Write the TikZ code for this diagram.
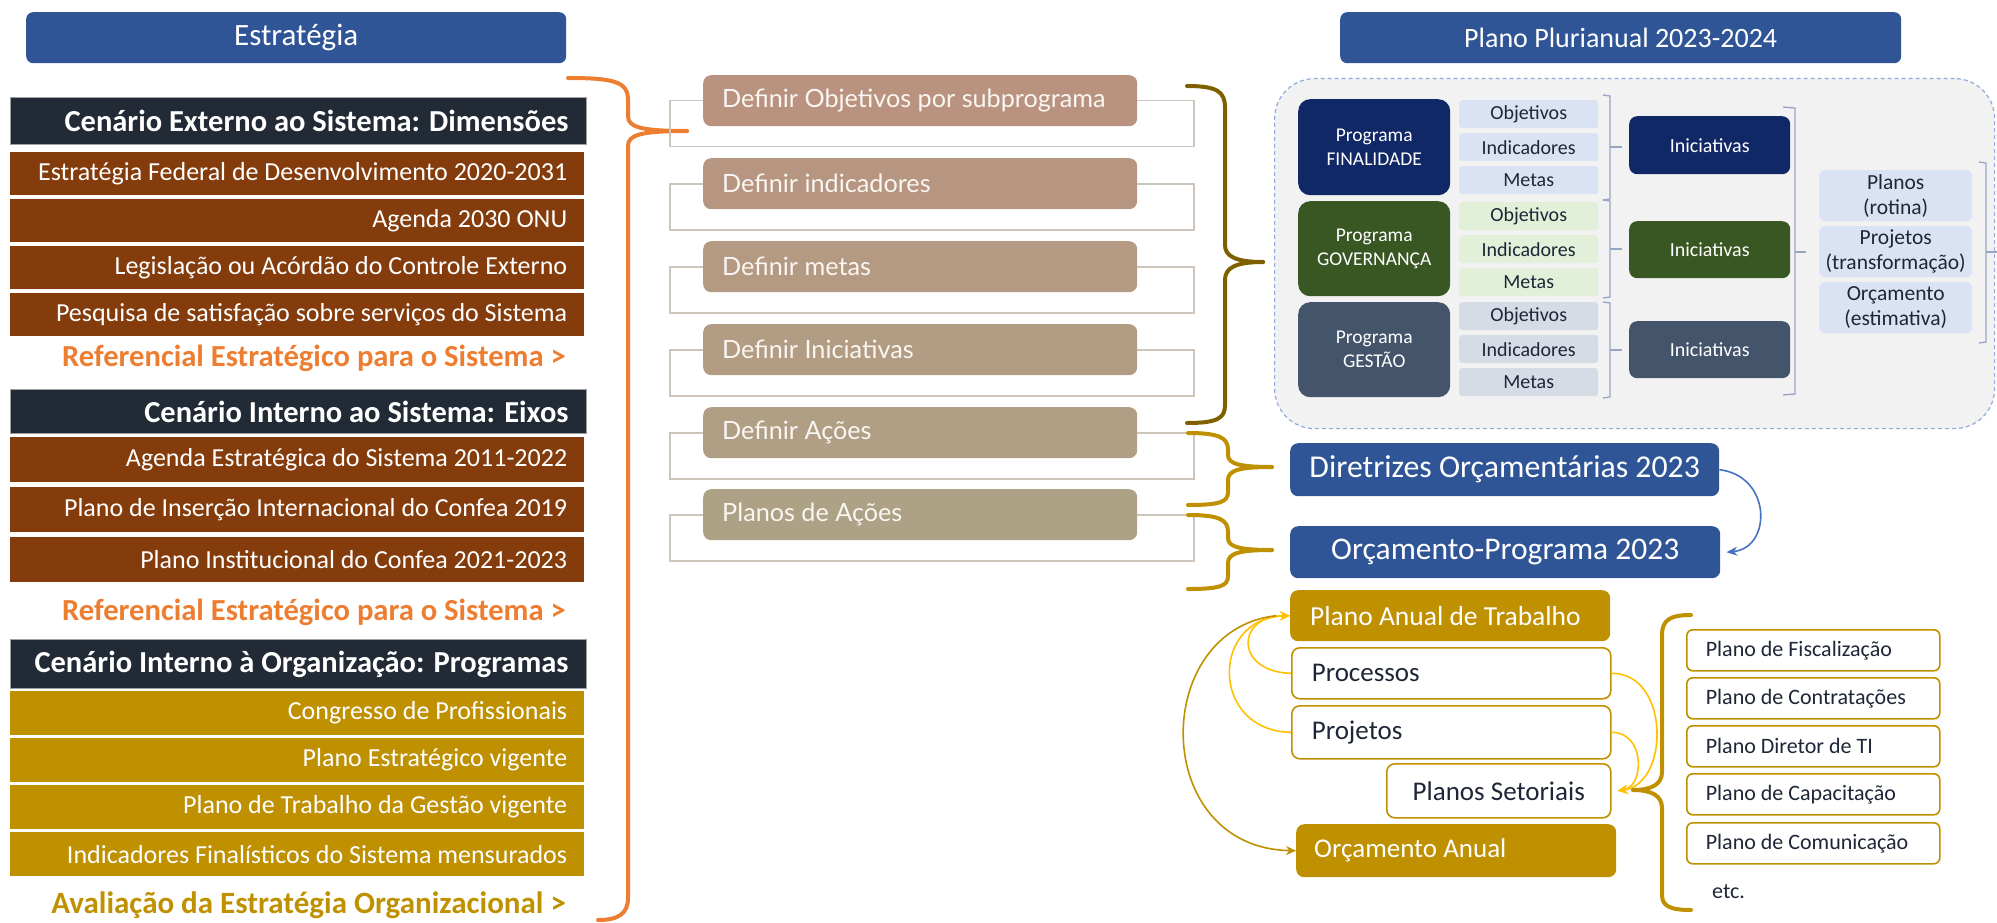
\documentclass[tikz,border=0pt]{standalone}
\usepackage{fontspec}
\setmainfont{Carlito}
\newfontfamily\latofont{Lato}
\usetikzlibrary{arrows.meta}
\definecolor{hblue}{RGB}{47,85,151}
\definecolor{navybar}{RGB}{34,42,53}
\definecolor{brownc}{RGB}{132,60,12}
\definecolor{goldc}{RGB}{191,144,0}
\definecolor{orangec}{RGB}{237,125,49}
\definecolor{olivec}{RGB}{127,96,0}
\definecolor{frc}{RGB}{205,196,186}
\definecolor{dA}{RGB}{185,146,128}
\definecolor{dB}{RGB}{182,149,129}
\definecolor{dC}{RGB}{180,153,131}
\definecolor{dD}{RGB}{178,156,132}
\definecolor{dE}{RGB}{176,159,133}
\definecolor{dF}{RGB}{173,162,134}
\definecolor{dtext}{RGB}{250,246,242}
\definecolor{contfill}{RGB}{242,242,242}
\definecolor{contdraw}{RGB}{143,170,220}
\definecolor{pfin}{RGB}{16,40,102}
\definecolor{pgov}{RGB}{56,87,35}
\definecolor{pges}{RGB}{68,84,106}
\definecolor{lblue}{RGB}{218,227,243}
\definecolor{lgreen}{RGB}{226,240,217}
\definecolor{lgrey}{RGB}{214,220,229}
\definecolor{darktxt}{RGB}{30,38,56}
\definecolor{brkc}{RGB}{150,165,195}
\definecolor{arrblue}{RGB}{68,114,196}
\definecolor{yelc}{RGB}{255,192,0}
\definecolor{bargrey}{RGB}{160,160,160}
\newcommand{\rtx}[1]{\makebox[540pt][r]{#1}}
\newcommand{\ltx}[2]{\makebox[#1][l]{#2}}
\begin{document}
\begin{tikzpicture}[x=1pt,y=-1pt,
  bx/.style 2 args={anchor=north west, minimum width=#1, minimum height=#2, inner sep=0pt},
  hdr/.style={fill=hblue, rounded corners=7pt, text=white},
  darkbar/.style={fill=navybar, draw=bargrey, line width=1pt, text=white, font=\bfseries\fontsize{30.5}{34}\selectfont},
  rowb/.style={fill=brownc, text=white, font=\fontsize{26}{30}\selectfont},
  rowg/.style={fill=goldc, text=white, font=\fontsize{26}{30}\selectfont},
  reftxt/.style={anchor=east, inner sep=0pt, font=\bfseries\fontsize{30.6}{34}\selectfont},
  defbox/.style={bx={434pt}{51pt}, rounded corners=8pt, text=dtext, font=\latofont\fontsize{25.2}{29}\selectfont},
  frame/.style={draw=frc, line width=1.6pt},
  bigbrace/.style={line width=4pt, line cap=round},
  prog/.style={rounded corners=12pt, text=white, align=center, font=\fontsize{19.5}{24}\selectfont},
  sbox/.style={bx={139pt}{28pt}, rounded corners=3pt, text=darktxt, font=\fontsize{20}{24}\selectfont},
  inic/.style={bx={161pt}{57pt}, rounded corners=8pt, text=white, font=\fontsize{20}{24}\selectfont},
  brk/.style={draw=brkc, line width=1.3pt},
  pbox/.style={bx={153pt}{51pt}, fill=lblue, rounded corners=6pt, text=darktxt, align=center, font=\fontsize{21.5}{25}\selectfont},
  goldbox/.style={fill=goldc, rounded corners=8pt, text=white},
  whitebox/.style={fill=white, draw=goldc, line width=1.6pt, rounded corners=8pt, text=darktxt, font=\fontsize{27}{31}\selectfont},
  lbox/.style={bx={253pt}{41pt}, fill=white, draw=goldc, line width=1.6pt, rounded corners=6pt, text=darktxt, font=\fontsize{22}{26}\selectfont},
  yarr/.style={draw=yelc, line width=1.6pt, -{Stealth[length=10pt,width=9pt]}},
]
\useasboundingbox (0,0) rectangle (1997,923);

% ---------------- left column
\node[hdr, bx={540pt}{51pt}, font=\fontsize{31}{36}\selectfont] (estr) at (26,12) {Estratégia};

\node[darkbar, bx={576pt}{47pt}] (cext) at (10,97) {\rtx{Cenário Externo ao Sistema: Dimensões}};
\node[rowb, bx={574pt}{43pt}] (e1) at (10,152) {\rtx{Estratégia Federal de Desenvolvimento 2020-2031}};
\node[rowb, bx={574pt}{43pt}] (e2) at (10,199) {\rtx{Agenda 2030 ONU}};
\node[rowb, bx={574pt}{43pt}] (e3) at (10,246) {\rtx{Legislação ou Acórdão do Controle Externo}};
\node[rowb, bx={574pt}{43pt}] (e4) at (10,293) {\rtx{Pesquisa de satisfação sobre serviços do Sistema}};
\node[reftxt, text=orangec] (ref1) at (566,358) {Referencial Estratégico para o Sistema >};

\node[darkbar, bx={576pt}{44pt}] (cint) at (10,389) {\rtx{Cenário Interno ao Sistema: Eixos}};
\node[rowb, bx={574pt}{45pt}] (i1) at (10,437) {\rtx{Agenda Estratégica do Sistema 2011-2022}};
\node[rowb, bx={574pt}{45pt}] (i2) at (10,487) {\rtx{Plano de Inserção Internacional do Confea 2019}};
\node[rowb, bx={574pt}{45pt}] (i3) at (10,537) {\rtx{Plano Institucional do Confea 2021-2023}};
\node[reftxt, text=orangec] (ref2) at (566,612) {Referencial Estratégico para o Sistema >};

\node[darkbar, bx={576pt}{49pt}] (corg) at (10,639) {\rtx{Cenário Interno à Organização: Programas}};
\node[rowg, bx={574pt}{44pt}] (o1) at (10,691) {\rtx{Congresso de Profissionais}};
\node[rowg, bx={574pt}{44pt}] (o2) at (10,738) {\rtx{Plano Estratégico vigente}};
\node[rowg, bx={574pt}{44pt}] (o3) at (10,785) {\rtx{Plano de Trabalho da Gestão vigente}};
\node[rowg, bx={574pt}{44pt}] (o4) at (10,832) {\rtx{Indicadores Finalísticos do Sistema mensurados}};
\node[reftxt, text=goldc, font=\bfseries\fontsize{31}{34}\selectfont] (aval) at (566,905) {Avaliação da Estratégia Organizacional >};

% orange brace
\coordinate (obtip) at (687,131);
\draw[orangec, bigbrace] (568,78) .. controls (615,78) and (628,82) .. (628,100) -- (628,116)
   .. controls (628,127) and (640,131) .. (obtip);
\draw[orangec, bigbrace] (obtip) .. controls (640,131) and (628,135) .. (628,146) -- (628,898)
   .. controls (628,914) and (618,920) .. (598,920);

% ---------------- middle column
\node[defbox, fill=dA] (d1) at (703,75) {\ltx{396pt}{Definir Objetivos por subprograma}};
\node[defbox, fill=dB] (d2) at (703,158) {\ltx{396pt}{Definir indicadores}};
\node[defbox, fill=dC] (d3) at (703,241) {\ltx{396pt}{Definir metas}};
\node[defbox, fill=dD] (d4) at (703,324) {\ltx{396pt}{Definir Iniciativas}};
\node[defbox, fill=dE] (d5) at (703,407) {\ltx{396pt}{Definir Ações}};
\node[defbox, fill=dF] (d6) at (703,489) {\ltx{396pt}{Planos de Ações}};
\foreach \n in {d1,d2,d3,d4,d5,d6}{
  \draw[frame] (\n.west) -- ++(-33,0) |- ++(524,46) |- (\n.east);
}

% braces right of middle column
\coordinate (olt) at (1263,262);
\draw[olivec, bigbrace] (1187,86) .. controls (1218,86) and (1225,92) .. (1225,108) -- (1225,245)
   .. controls (1225,256) and (1235,262) .. (olt);
\draw[olivec, bigbrace] (olt) .. controls (1235,262) and (1225,268) .. (1225,280) -- (1225,405)
   .. controls (1225,418) and (1218,423) .. (1187,423);
\coordinate (g1t) at (1272,467);
\draw[goldc, bigbrace] (1188,433) .. controls (1220,433) and (1228,438) .. (1228,450) -- (1228,455)
   .. controls (1228,464) and (1240,467) .. (g1t);
\draw[goldc, bigbrace] (g1t) .. controls (1240,467) and (1228,470) .. (1228,480) -- (1228,492)
   .. controls (1228,502) and (1220,505) .. (1188,505);
\coordinate (g2t) at (1272,550);
\draw[goldc, bigbrace] (1188,515) .. controls (1220,515) and (1228,520) .. (1228,532) -- (1228,538)
   .. controls (1228,547) and (1240,550) .. (g2t);
\draw[goldc, bigbrace] (g2t) .. controls (1240,550) and (1228,553) .. (1228,563) -- (1228,576)
   .. controls (1228,586) and (1220,589) .. (1188,589);

% ---------------- right top: PPA
\node[hdr, bx={561pt}{51pt}, font=\fontsize{28}{33}\selectfont] (ppa) at (1340,12) {Plano Plurianual 2023-2024};
\node[bx={720pt}{350pt}, draw=contdraw, dash pattern=on 4pt off 3pt, line width=1.2pt, fill=contfill, rounded corners=40pt] (cont) at (1274,78) {};

\node[prog, bx={152pt}{96pt}, fill=pfin] (pfin) at (1298,99) {Programa\\FINALIDADE};
\node[prog, bx={152pt}{95pt}, fill=pgov] (pgov) at (1298,201) {Programa\\GOVERNANÇA};
\node[prog, bx={152pt}{95pt}, fill=pges] (pges) at (1298,302) {Programa\\GESTÃO};

\node[sbox, fill=lblue] (ob1) at (1459,100) {Objetivos};
\node[sbox, fill=lblue] (in1) at (1459,133) {Indicadores};
\node[sbox, fill=lblue] (me1) at (1459,166) {Metas};
\node[sbox, fill=lgreen] (ob2) at (1459,202) {Objetivos};
\node[sbox, fill=lgreen] (in2) at (1459,235) {Indicadores};
\node[sbox, fill=lgreen] (me2) at (1459,268) {Metas};
\node[sbox, fill=lgrey] (ob3) at (1459,302) {Objetivos};
\node[sbox, fill=lgrey] (in3) at (1459,335) {Indicadores};
\node[sbox, fill=lgrey] (me3) at (1459,368) {Metas};

\draw[brk] (1603,95) -- (1610,96) -- (1610,199) -- (1603,200);
\draw[brk] (1610,147) -- (1622,147);
\draw[brk] (1603,200) -- (1610,201) -- (1610,297) -- (1603,298);
\draw[brk] (1610,249) -- (1622,249);
\draw[brk] (1603,302) -- (1610,303) -- (1610,397) -- (1603,398);
\draw[brk] (1610,350) -- (1622,350);

\node[inic, fill=pfin, minimum height=58pt] (ini1) at (1629,116) {Iniciativas};
\node[inic, fill=pgov] (ini2) at (1629,221) {Iniciativas};
\node[inic, fill=pges] (ini3) at (1629,321) {Iniciativas};

\draw[brk] (1783,107) -- (1795,108) -- (1795,394) -- (1783,395);
\draw[brk] (1795,252) -- (1806,252);

\node[pbox] (pl1) at (1819,170) {Planos\\(rotina)};
\node[pbox] (pl2) at (1819,226) {Projetos\\(transformação)};
\node[pbox] (pl3) at (1819,282) {Orçamento\\(estimativa)};

\draw[brk] (1979,162) -- (1986,163) -- (1986,342) -- (1979,343);
\draw[brk] (1986,252) -- (1997,252);

% ---------------- right bottom
\node[bx={429pt}{53pt}, fill=hblue, rounded corners=8pt, text=white, font=\fontsize{31.8}{35}\selectfont] (dir) at (1290,443) {Diretrizes Orçamentárias 2023};
\node[bx={430pt}{52pt}, fill=hblue, rounded corners=8pt, text=white, font=\fontsize{31.5}{35}\selectfont] (orp) at (1290,526) {Orçamento-Programa 2023};
\draw[arrblue, line width=1.6pt, -{Stealth[length=11pt,width=9pt]}] (dir.east) .. controls (1772,476) and (1772,548) .. ([xshift=6pt]orp.east);

\node[goldbox, bx={320pt}{51pt}, font=\fontsize{27.5}{31}\selectfont] (pat) at (1290,590) {\ltx{280pt}{Plano Anual de Trabalho}};
\node[whitebox, bx={319pt}{51pt}] (proc) at (1291,647) {\ltx{279pt}{Processos}};
\node[whitebox, bx={319pt}{53pt}] (proj) at (1291,705) {\ltx{279pt}{Projetos}};
\node[whitebox, bx={224pt}{54pt}] (pse) at (1386,763) {Planos Setoriais};
\node[goldbox, bx={320pt}{53pt}, font=\fontsize{27}{31}\selectfont] (oan) at (1296,824) {\ltx{284pt}{Orçamento Anual}};

\draw[yarr] (proc.west) .. controls (1235,672) and (1235,616) .. (pat.west);
\draw[yarr] (proj.west) .. controls (1210,731) and (1210,618) .. (pat.west);
\draw[draw=goldc, line width=1.6pt, -{Stealth[length=10pt,width=9pt]}] ([xshift=-14pt]pat.west) .. controls (1150,630) and (1150,848) .. (oan.west);
\draw[yarr] (proc.east) .. controls (1670,673) and (1670,784) .. ([xshift=6pt]pse.east);
\draw[yarr] (proj.east) .. controls (1645,732) and (1645,786) .. ([xshift=6pt]pse.east);

\coordinate (lbt) at (1633,790);
\draw[goldc, bigbrace] (1691,615) .. controls (1670,615) and (1662,620) .. (1662,635) -- (1662,772)
   .. controls (1662,784) and (1652,790) .. (lbt);
\draw[goldc, bigbrace] (lbt) .. controls (1652,790) and (1662,796) .. (1662,808) -- (1662,895)
   .. controls (1662,906) and (1670,910) .. (1691,910);

\node[lbox] (lf1) at (1686,629) {\ltx{215pt}{Plano de Fiscalização}};
\node[lbox] (lf2) at (1686,677) {\ltx{215pt}{Plano de Contratações}};
\node[lbox] (lf3) at (1686,725) {\ltx{215pt}{Plano Diretor de TI}};
\node[lbox] (lf4) at (1686,773) {\ltx{215pt}{Plano de Capacitação}};
\node[lbox] (lf5) at (1686,822) {\ltx{215pt}{Plano de Comunicação}};
\node[anchor=west, inner sep=0pt, text=darktxt, font=\fontsize{22}{26}\selectfont] (etc) at (1712,892) {etc.};
\end{tikzpicture}
\end{document}
